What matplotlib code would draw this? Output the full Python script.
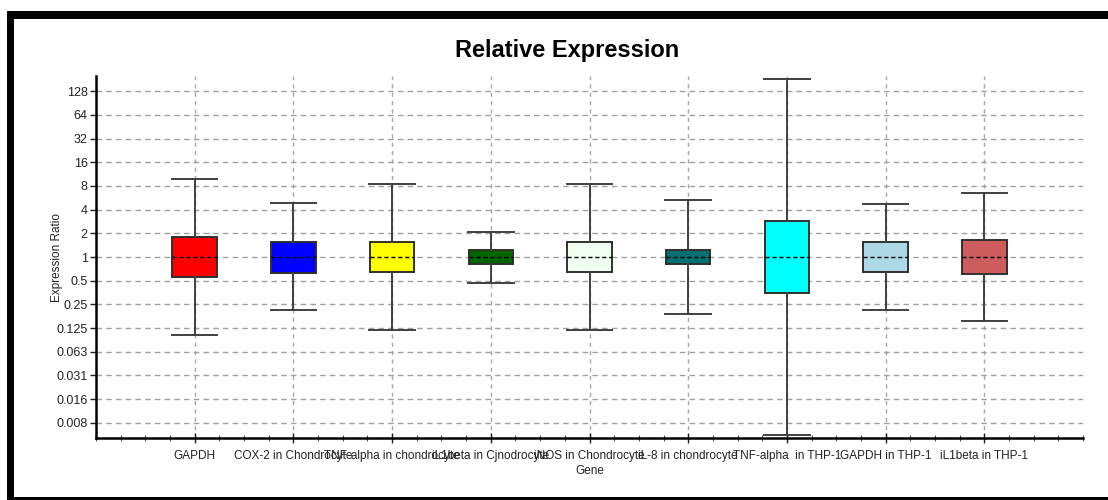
import matplotlib
matplotlib.use("Agg")
import matplotlib.pyplot as plt
from matplotlib.patches import Rectangle
from matplotlib.ticker import FixedLocator, FixedFormatter, MultipleLocator

plt.rcParams['font.family'] = ['Liberation Sans', 'DejaVu Sans']

# Genes and their expression-ratio summaries
genes = ["GAPDH", "COX-2 in Chondrocyte", "TNF-alpha in chondrocyte",
         "iL1beta in Cjnodrocyte", "iNOS in Chondrocyte", "iL-8 in chondrocyte",
         "TNF-alpha  in THP-1", "GAPDH in THP-1", "iL1beta in THP-1"]
whisker_low = [0.102, 0.21, 0.118, 0.47, 0.118, 0.19, 0.0055, 0.21, 0.154]
box_low     = [0.56, 0.63, 0.64, 0.815, 0.64, 0.815, 0.346, 0.64, 0.60]
median      = [1.0, 1.0, 1.0, 1.0, 1.0, 1.0, 1.0, 1.0, 1.0]
box_high    = [1.78, 1.56, 1.55, 1.23, 1.55, 1.23, 2.86, 1.55, 1.64]
whisker_high = [9.8, 4.85, 8.46, 2.1, 8.46, 5.3, 182.0, 4.75, 6.5]
box_colors = ["#ff0000", "#0000ff", "#ffff00", "#006400", "#f0fff0",
              "#007070", "#00ffff", "#add8e6", "#cd5c5c"]

ytick_values = [2.0 ** k for k in range(-7, 8)]
ytick_labels = ["0.008", "0.016", "0.031", "0.063", "0.125", "0.25", "0.5",
                "1", "2", "4", "8", "16", "32", "64", "128"]

W, H = 1108, 500
fig = plt.figure(figsize=(W / 100, H / 100), dpi=100)

# Heavy black frame along the top, left and bottom edges
for x0, y0, w, h in [(7, 11, W - 7, 8), (7, 11, 7, H - 11), (7, 497, W - 7, 3)]:
    fig.add_artist(Rectangle((x0 / W, 1 - (y0 + h) / H), w / W, h / H,
                             transform=fig.transFigure, facecolor="black",
                             edgecolor="none", zorder=10))

ax = fig.add_axes([96 / W, (H - 438) / H, (1083 - 96) / W, (438 - 76) / H])

stats = []
for i, g in enumerate(genes):
    stats.append(dict(label=g, whislo=whisker_low[i], q1=box_low[i],
                      med=median[i], q3=box_high[i], whishi=whisker_high[i],
                      fliers=[]))

positions = list(range(1, len(genes) + 1))
bp = ax.bxp(stats, positions=positions, widths=0.45, patch_artist=True,
            showfliers=False,
            boxprops=dict(edgecolor="#303030", linewidth=1.4),
            whiskerprops=dict(color="#404040", linewidth=1.4),
            capprops=dict(color="#404040", linewidth=1.4),
            medianprops=dict(color="black", linewidth=1.0, linestyle=(0, (3, 2))),
            capwidths=0.46, zorder=3)
for patch, c in zip(bp["boxes"], box_colors):
    patch.set_facecolor(c)

ax.set_yscale("log", base=2)
ax.set_ylim(2 ** -7.64, 2 ** 7.64)
ax.set_xlim(0, len(genes) + 1)

ax.yaxis.set_major_locator(FixedLocator(ytick_values))
ax.yaxis.set_major_formatter(FixedFormatter(ytick_labels))
ax.yaxis.set_minor_locator(FixedLocator([]))
ax.set_xticks(positions)
ax.set_xticklabels(genes)
ax.xaxis.set_minor_locator(MultipleLocator(0.25))

ax.tick_params(axis="y", which="major", direction="out", length=4, width=1,
               labelsize=9, pad=2, colors="#222222")
ax.tick_params(axis="x", which="major", direction="inout", length=7, width=1,
               labelsize=8.5, pad=5, colors="#222222")
ax.tick_params(axis="x", which="minor", direction="inout", length=5, width=0.8,
               color="#555555")

ax.grid(axis="y", which="major", color="#a0a0a0", linestyle=(0, (4, 3)),
        linewidth=1.0, zorder=0)
ax.grid(axis="x", which="major", color="#a8a8a8", linestyle=(0, (3, 3)),
        linewidth=1.0, zorder=0)
ax.set_axisbelow(True)

for side in ("top", "right"):
    ax.spines[side].set_visible(False)
for side in ("left", "bottom"):
    ax.spines[side].set_linewidth(1.8)
    ax.spines[side].set_color("black")

ax.set_ylabel("Expression Ratio", fontsize=8.5, color="#222222")
ax.yaxis.set_label_coords((63 - 96) / (1083 - 96), 0.5)
ax.set_xlabel("Gene", fontsize=8.5, labelpad=2, color="#222222")

fig.text(567 / W, 1 - 51 / H, "Relative Expression", ha="center", va="center",
         fontsize=17, fontweight="bold")

fig.savefig("out.png", dpi=100, facecolor="white")
